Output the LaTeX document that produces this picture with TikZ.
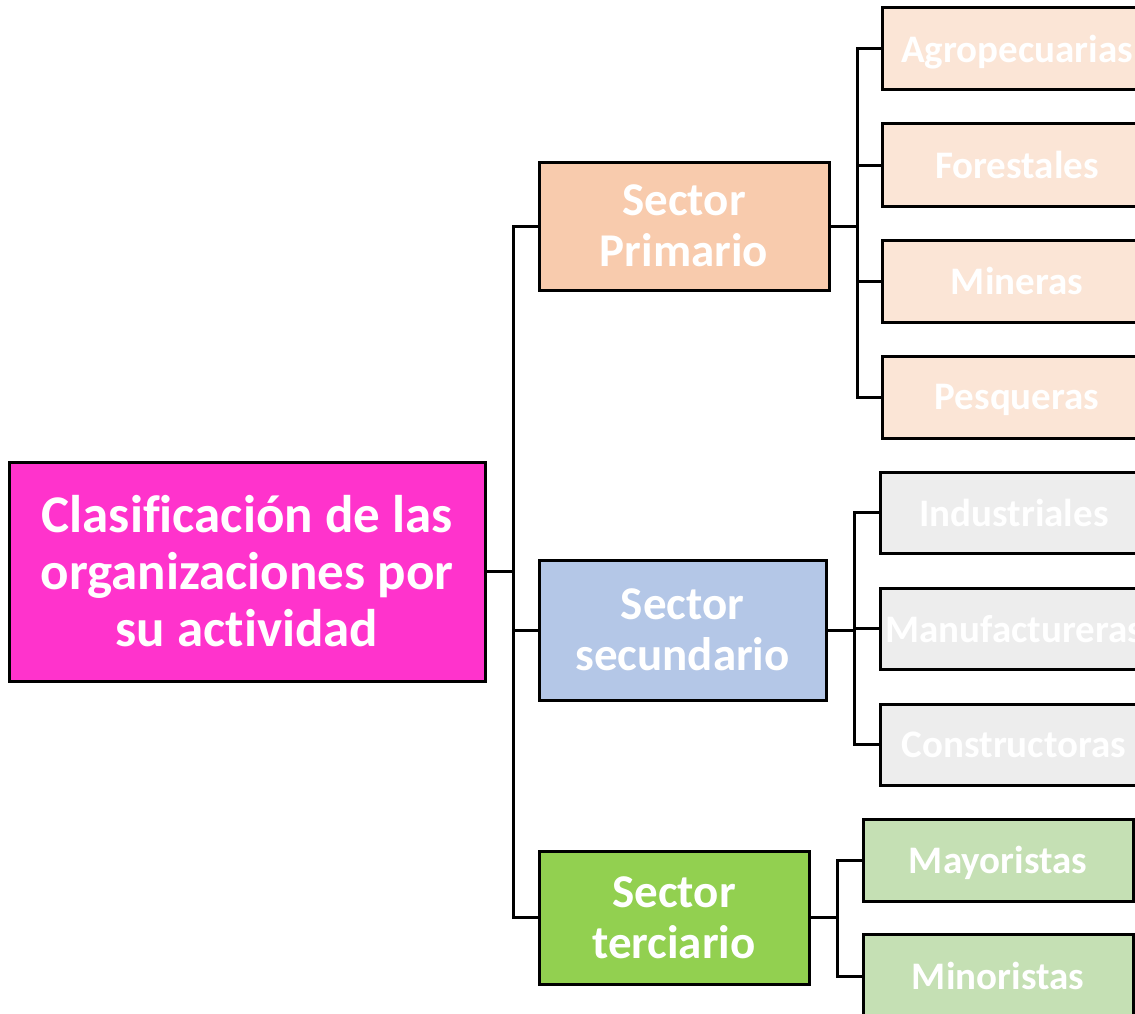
\documentclass[tikz,border=0pt]{standalone}
\usepackage{fontspec}
\setmainfont{Carlito}[Ligatures=NoCommon]
\definecolor{rootc}{HTML}{FF33CC}
\definecolor{pric}{HTML}{F8CBAD}
\definecolor{secc}{HTML}{B4C7E7}
\definecolor{terc}{HTML}{92D050}
\definecolor{pril}{HTML}{FBE5D6}
\definecolor{secl}{HTML}{EDEDED}
\definecolor{terl}{HTML}{C5E0B4}
\begin{document}
\begin{tikzpicture}[x=1pt,y=1pt,
  box/.style={draw=black,line width=3pt,rectangle,inner sep=0pt,align=center,text=white,font=\bfseries},
  rootbox/.style={box,fill=rootc,minimum width=476pt,minimum height=219pt,font=\bfseries\fontsize{53}{57}\selectfont},
  secbox/.style={box,font=\bfseries\fontsize{47}{51}\selectfont},
  leaf/.style={box,font=\bfseries\fontsize{39}{44}\selectfont,minimum height=82pt,text depth=-3pt},
  conn/.style={line width=3pt,draw=black}]
\useasboundingbox (0,0) rectangle (1135,-1014);
\clip (0,0) rectangle (1135,-1014);
\fill[white] (0,0) rectangle (1135,-1014);
% root
\node[rootbox] (root) at (247,-571.5) {Clasificación de las\\organizaciones por\\su actividad};
% sectors
\node[secbox,fill=pric,minimum width=290pt,minimum height=128pt] (sp) at (684,-226) {Sector\\Primario};
\node[secbox,fill=secc,minimum width=287pt,minimum height=140pt] (ss) at (682.5,-630) {Sector\\secundario};
\node[secbox,fill=terc,minimum width=270pt,minimum height=133pt] (st) at (674,-917.5) {Sector\\terciario};
% primary leaves
\node[leaf,fill=pril,minimum width=270pt] (p1) at (1017,-49) {Agropecuarias};
\node[leaf,fill=pril,minimum width=270pt] (p2) at (1017,-165) {Forestales};
\node[leaf,fill=pril,minimum width=270pt] (p3) at (1017,-281) {Mineras};
\node[leaf,fill=pril,minimum width=270pt] (p4) at (1017,-397) {Pesqueras};
% secondary leaves
\node[leaf,fill=secl,minimum width=268pt,minimum height=81pt] (s1) at (1014,-512.5) {Industriales};
\node[leaf,fill=secl,minimum width=268pt,minimum height=81pt] (s2) at (1014,-628.5) {Manufactureras};
\node[leaf,fill=secl,minimum width=268pt,minimum height=81pt] (s3) at (1014,-744.5) {Constructoras};
% tertiary leaves
\node[leaf,fill=terl,minimum width=270pt] (t1) at (998,-860) {Mayoristas};
\node[leaf,fill=terl,minimum width=270pt,minimum height=84pt] (t2) at (998,-976) {};
\node[font=\bfseries\fontsize{39}{44}\selectfont,text=white,text depth=-3pt] (t2t) at (998,-976) {Minoristas};
% connectors
\draw[conn] (root.east) -- ++(27,0) coordinate (j0);
\draw[conn] (j0) |- (sp.west);
\draw[conn] (j0) |- (ss.west);
\draw[conn] (j0) |- (st.west);
\draw[conn] (sp.east) -- ++(27,0) coordinate (j1);
\draw[conn] (j1) |- (p1.west);
\draw[conn] (j1) |- (p2.west);
\draw[conn] (j1) |- (p3.west);
\draw[conn] (j1) |- (p4.west);
\draw[conn] (ss.east) -- ++(27,0) coordinate (j2);
\draw[conn] (j2) |- (s1.west);
\draw[conn] (j2) |- (s2.west);
\draw[conn] (j2) |- (s3.west);
\draw[conn] (st.east) -- ++(27,0) coordinate (j3);
\draw[conn] (j3) |- (t1.west);
\draw[conn] (j3) |- (t2.west);
\end{tikzpicture}
\end{document}
